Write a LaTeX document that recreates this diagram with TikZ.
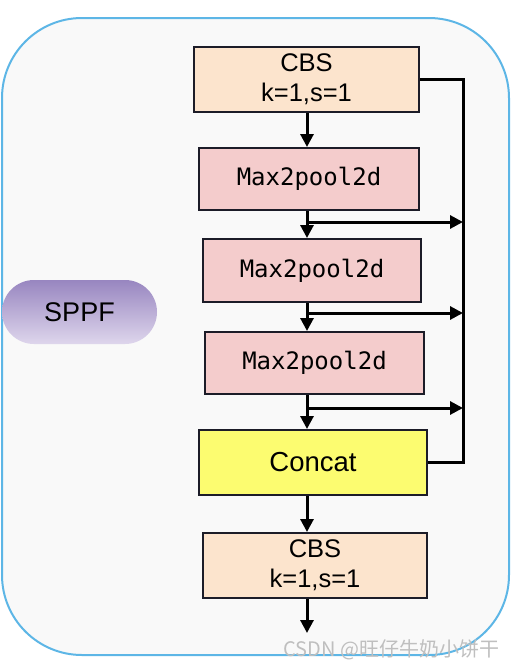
\documentclass[tikz,border=0pt]{standalone}
\usepackage{fontspec}
\setmainfont{Liberation Sans}
\setmonofont{DejaVu Sans Mono}
\newfontfamily\cjk{Noto Sans CJK SC}
\usetikzlibrary{arrows.meta, shadings}

\definecolor{frameblue}{HTML}{5DB6E6}
\definecolor{panelgray}{HTML}{F9F9F9}
\definecolor{cbsfill}{HTML}{FCE4CD}
\definecolor{poolfill}{HTML}{F4CCCC}
\definecolor{catfill}{HTML}{FCFC70}
\definecolor{boxline}{HTML}{1C1C28}
\definecolor{sppftop}{HTML}{9886C0}
\definecolor{sppfbottom}{HTML}{DED6EC}

\begin{document}
\begin{tikzpicture}[x=1pt, y=-1pt, >={Triangle[length=13pt, width=13pt]},
    block/.style={draw=boxline, line width=2pt, inner sep=0pt, align=center},
    cbsbox/.style={block, fill=cbsfill, font=\fontsize{25.5}{30}\selectfont},
    poolbox/.style={block, fill=poolfill, font=\ttfamily\fontsize{24}{28}\selectfont},
    flow/.style={line width=3pt}]
    \useasboundingbox (0,0) rectangle (517,670);
    \draw[frameblue, fill=panelgray, line width=2pt, rounded corners=80pt] (2,18) rectangle (509,655);

    % label on the left
    \node[top color=sppftop, bottom color=sppfbottom, rounded corners=32pt,
          minimum width=155pt, minimum height=64pt, inner sep=0pt,
          font=\fontsize{27}{30}\selectfont] (sppf) at (79.5,312) {SPPF};

    % main column
    \node[cbsbox, minimum width=225pt, minimum height=65pt] (cbsA) at (306.5,79.5) {CBS\\k=1,s=1};
    \node[poolbox, minimum width=220pt, minimum height=62pt] (poolA) at (309,179) {Max2pool2d};
    \node[poolbox, minimum width=218pt, minimum height=63pt] (poolB) at (312,270.5) {Max2pool2d};
    \node[poolbox, minimum width=219pt, minimum height=62pt] (poolC) at (314.5,363) {Max2pool2d};
    \node[block, fill=catfill, minimum width=228pt, minimum height=65pt,
          font=\fontsize{27.5}{30}\selectfont] (concat) at (313,462.5) {Concat};
    \node[cbsbox, minimum width=224pt, minimum height=65pt] (cbsB) at (315,565.5) {CBS\\k=1,s=1};

    \coordinate (axis) at (307,0);
    \coordinate (bus) at (463,0);
    \coordinate (tapA) at (307,222);
    \coordinate (tapB) at (307,313);
    \coordinate (tapC) at (307,408);
    \coordinate (out) at (307,633);

    \draw[->, flow] (cbsA.south -| axis) -- (poolA.north -| axis);
    \draw[->, flow] (poolA.south -| axis) -- (poolB.north -| axis);
    \draw[->, flow] (poolB.south -| axis) -- (poolC.north -| axis);
    \draw[->, flow] (poolC.south -| axis) -- (concat.north -| axis);
    \draw[->, flow] (concat.south -| axis) -- (cbsB.north -| axis);
    \draw[->, flow] (cbsB.south -| axis) -- (out);

    % skip branches into the bus
    \draw[->, flow] (tapA) -- (tapA -| bus);
    \draw[->, flow] (tapB) -- (tapB -| bus);
    \draw[->, flow] (tapC) -- (tapC -| bus);
    \draw[flow] (cbsA.east) -| (concat.east -| bus) -- (concat.east);

    \node[text=black!25, font=\cjk\fontsize{20}{24}\selectfont, anchor=east] (mark) at (503,650) {CSDN @旺仔牛奶小饼干};
\end{tikzpicture}
\end{document}
